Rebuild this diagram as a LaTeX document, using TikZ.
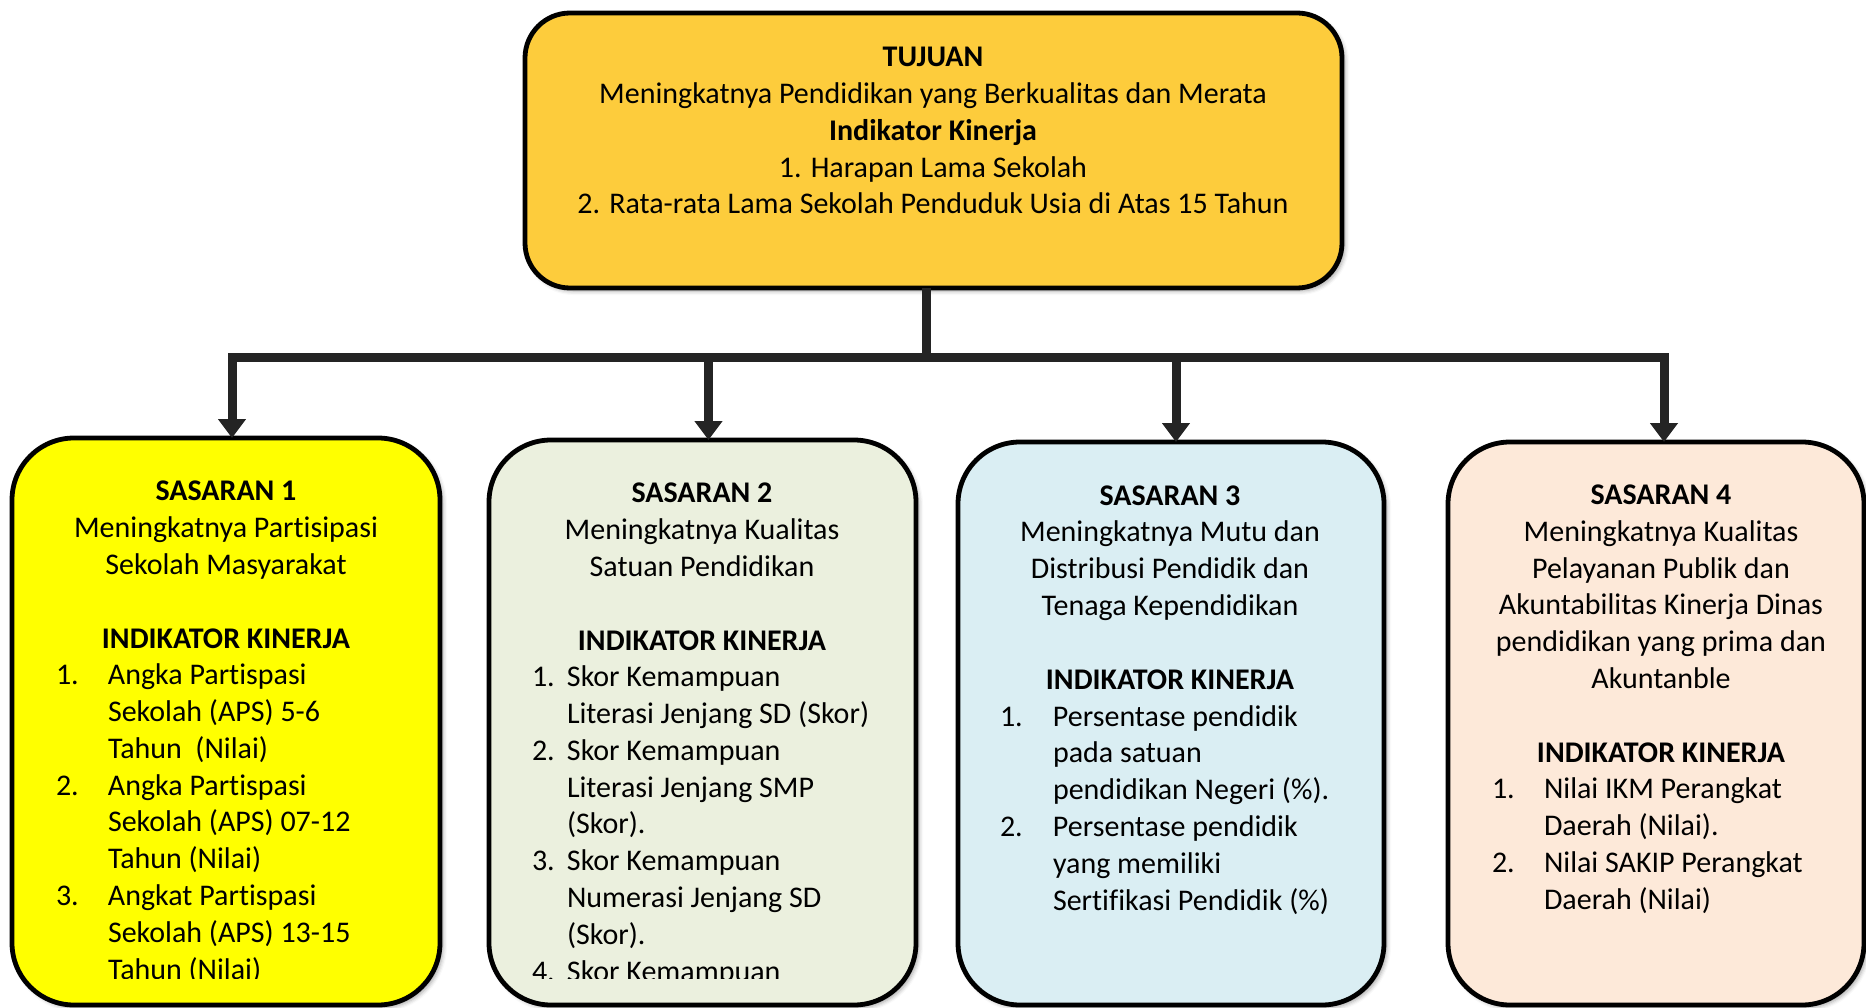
\documentclass[tikz,border=0pt]{standalone}
\usepackage{fontspec}
\setmainfont{Carlito}[Ligatures=NoCommon]
\usetikzlibrary{arrows.meta,shadows.blur}
\definecolor{gold}{RGB}{253,204,60}
\definecolor{yel}{RGB}{255,255,0}
\definecolor{olivelt}{RGB}{235,240,222}
\definecolor{aqualt}{RGB}{218,238,243}
\definecolor{orangelt}{RGB}{253,233,217}
\definecolor{connc}{RGB}{36,36,36}
\newcommand\nm[2]{\makebox[#1pt][l]{#2}}
\begin{document}
\begin{tikzpicture}[x=1pt,y=-1pt,
  box/.style={draw=black, line width=4.8pt, rounded corners=62pt, inner sep=0pt, outer sep=0pt, anchor=north west,
    blur shadow={shadow xshift=3pt, shadow yshift=-3pt, shadow blur radius=4pt, shadow opacity=35}},
  txt/.style={font=\fontsize{30}{36.8}\selectfont, inner sep=0pt, outer sep=0pt},
  conn/.style={line width=9pt, draw=connc},
  tip/.style={-{Triangle[width=27pt,length=19pt]}}]
\useasboundingbox (0,0) rectangle (1866,1008);

% boxes
\node[box, fill=gold, rounded corners=45pt, minimum width=817pt, minimum height=275pt] (top) at (525,13) {};
\node[box, fill=yel, minimum width=428pt, minimum height=567pt] (s1) at (12,438) {};
\node[box, fill=olivelt, minimum width=427pt, minimum height=565pt] (s2) at (489,440) {};
\node[box, fill=aqualt, minimum width=426pt, minimum height=563pt] (s3) at (958,442) {};
\node[box, fill=orangelt, minimum width=416pt, minimum height=563pt] (s4) at (1448,442) {};

% connectors
\coordinate (hub) at (926,357);
\draw[conn] ([xshift=-7.5pt]top.south) -- (hub);
\draw[conn,tip] (hub) -| ([xshift=6pt]s1.north);
\draw[conn,tip] (hub) -| ([xshift=6pt]s2.north);
\draw[conn,tip] (hub) -| ([xshift=5pt]s3.north);
\draw[conn,tip] (hub) -| ([xshift=8pt]s4.north);

% top text (base = last line)
\node[txt, align=center, anchor=base] (t0) at (933,214)
 {\textbf{TUJUAN}\\ Meningkatnya Pendidikan yang Berkualitas dan Merata\\ \textbf{Indikator Kinerja}\\ 1. Harapan Lama Sekolah\\ 2. Rata-rata Lama Sekolah Penduduk Usia di Atas 15 Tahun};

% headers (base = last line)
\node[txt, align=center, anchor=base] (h1) at (226,648)
 {\textbf{SASARAN 1}\\ Meningkatnya Partisipasi\\ Sekolah Masyarakat\\[36.8pt] \textbf{INDIKATOR KINERJA}};
\node[txt, align=center, anchor=base] (h2) at (702,650)
 {\textbf{SASARAN 2}\\ Meningkatnya Kualitas\\ Satuan Pendidikan\\[36.8pt] \textbf{INDIKATOR KINERJA}};
\node[txt, align=center, anchor=base] (h3) at (1170,689)
 {\textbf{SASARAN 3}\\ Meningkatnya Mutu dan\\ Distribusi Pendidik dan\\ Tenaga Kependidikan\\[36.8pt] \textbf{INDIKATOR KINERJA}};
\node[txt, align=center, anchor=base] (h4) at (1661,762)
 {\textbf{SASARAN 4}\\ Meningkatnya Kualitas\\ Pelayanan Publik dan\\ Akuntabilitas Kinerja Dinas\\ pendidikan yang prima dan\\ Akuntanble\\[36.8pt] \textbf{INDIKATOR KINERJA}};

% lists (base = last line)
\begin{scope}
\clip (0,0) rectangle (1866,978);
\node[txt, align=left, anchor=base west] (l1) at (56,979)
 {\nm{52}{1.}Angka Partispasi\\ \nm{52}{}Sekolah (APS) 5-6\\ \nm{52}{}Tahun\ \ (Nilai)\\
  \nm{52}{2.}Angka Partispasi\\ \nm{52}{}Sekolah (APS) 07-12\\ \nm{52}{}Tahun (Nilai)\\
  \nm{52}{3.}Angkat Partispasi\\ \nm{52}{}Sekolah (APS) 13-15\\ \nm{52}{}Tahun (Nilai)};
\node[txt, align=left, anchor=base west] (l2) at (532,981)
 {\nm{35}{1.}Skor Kemampuan\\ \nm{35}{}Literasi Jenjang SD (Skor)\\
  \nm{35}{2.}Skor Kemampuan\\ \nm{35}{}Literasi Jenjang SMP\\ \nm{35}{}(Skor).\\
  \nm{35}{3.}Skor Kemampuan\\ \nm{35}{}Numerasi Jenjang SD\\ \nm{35}{}(Skor).\\
  \nm{35}{4.}Skor Kemampuan};
\end{scope}
\node[txt, align=left, anchor=base west] (l3) at (1000,910)
 {\nm{53}{1.}Persentase pendidik\\ \nm{53}{}pada satuan\\ \nm{53}{}pendidikan Negeri (\%).\\
  \nm{53}{2.}Persentase pendidik\\ \nm{53}{}yang memiliki\\ \nm{53}{}Sertifikasi Pendidik (\%)};
\node[txt, align=left, anchor=base west] (l4) at (1492,909)
 {\nm{52}{1.}Nilai IKM Perangkat\\ \nm{52}{}Daerah (Nilai).\\
  \nm{52}{2.}Nilai SAKIP Perangkat\\ \nm{52}{}Daerah (Nilai)};
\end{tikzpicture}
\end{document}
